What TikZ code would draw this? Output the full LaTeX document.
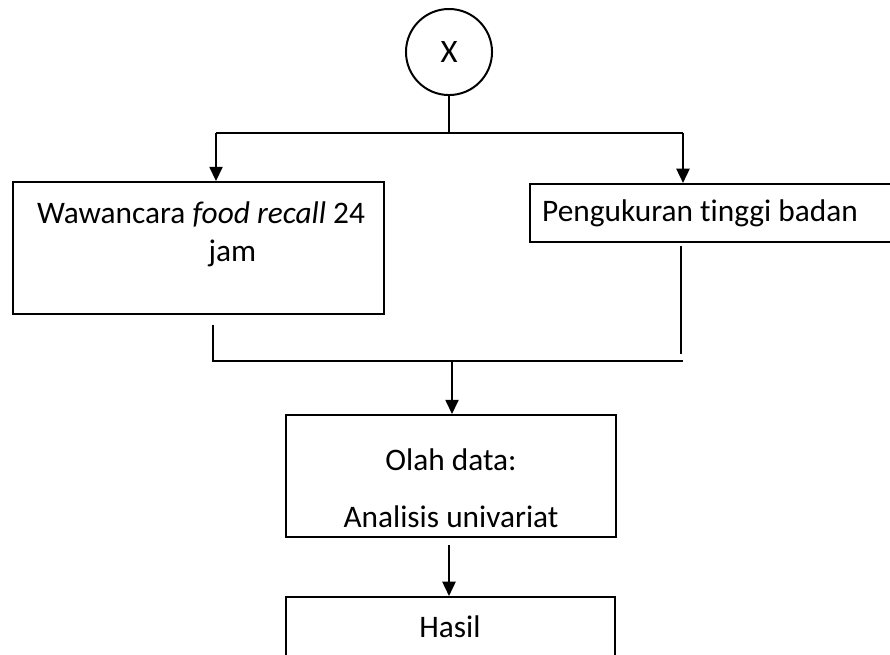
\documentclass[tikz,border=0pt]{standalone}
\usepackage{fontspec}
\setmainfont{Carlito}[RawFeature={-liga;-clig}]
\usetikzlibrary{arrows.meta, positioning}
\tikzset{
  box/.style={draw, rectangle, line width=0.7pt, inner sep=0pt},
  txt/.style={font=\fontsize{11pt}{13.4pt}\selectfont, align=center, inner sep=0pt},
  line/.style={line width=0.7pt},
  arr/.style={line width=0.7pt, -{Triangle[length=5pt,width=4.6pt]}},
}
\begin{document}
\begin{tikzpicture}[x=0.351pt, y=-0.351pt]
  \useasboundingbox (0,0) rectangle (890,654);
  \clip (0,0) rectangle (890,654);

  % Start
  \node[draw, circle, line width=0.7pt, minimum size=30.2pt, inner sep=0pt,
        font=\fontsize{11.5pt}{13.4pt}\selectfont] (x) at (449,52) {X};

  % Boxes
  \node[box, minimum width=130.2pt, minimum height=46.3pt] (recall) at (198.5,248) {};
  \node[box, minimum width=129.9pt, minimum height=20.4pt] (ukur) at (715,213) {};
  \node[box, minimum width=115.8pt, minimum height=42.8pt] (olah) at (451,476) {};
  \node[box, minimum width=115.5pt, minimum height=43.2pt] (hasil) at (450.5,658.5) {};

  % Texts
  \node[txt] (recall-txt) at (201,234.5) {Wawancara \textit{food recall} 24\\\hspace*{22pt}jam};
  \node[txt] (ukur-txt) at (700,213) {Pengukuran tinggi badan};
  \node[txt] (olah-txt) at (451,488.5) {Olah data:\\[6.6pt]Analisis univariat};
  \node[txt] (hasil-txt) at (450,627) {Hasil};

  % Split
  \coordinate (split) at (449,133);
  \coordinate (ltop) at (216,133);
  \coordinate (rtop) at (683,133);
  \draw[line] (x) -- (split);
  \draw[line] (ltop) -- (rtop);
  \draw[arr] (ltop) -- (ltop |- recall.north);
  \draw[arr] (rtop) -- (rtop |- ukur.north);

  % Join
  \coordinate (lup) at (213,325);
  \coordinate (lbot) at (213,361);
  \coordinate (rbot) at (683,361);
  \coordinate (rup) at (681,246);
  \coordinate (rdown) at (681,354);
  \coordinate (join) at (452,361);
  \draw[line] (lup) -- (lbot) -- (rbot);
  \draw[line] (rup) -- (rdown);
  \draw[arr] (join) -- (join |- olah.north);

  % Result
  \coordinate (olah-out) at (449,545);
  \draw[arr] (olah-out) -- (olah-out |- hasil.north);
\end{tikzpicture}
\end{document}
